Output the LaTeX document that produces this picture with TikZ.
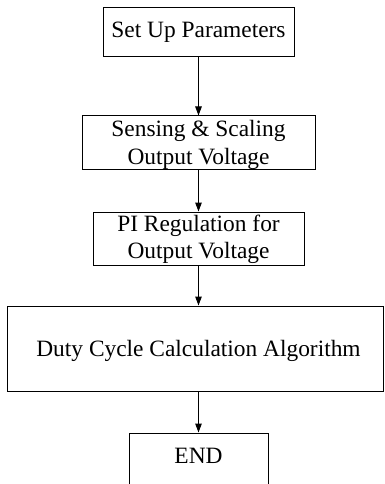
\documentclass[tikz,border=0pt]{standalone}
\usepackage{fontspec}
\setmainfont{Liberation Serif}
\usetikzlibrary{arrows.meta}
\begin{document}
\begin{tikzpicture}[x=1pt,y=-1pt,
  box/.style={draw=black,line width=1pt,inner sep=0pt,rectangle},
  txt/.style={inner sep=0pt,anchor=base,font=\fontsize{23.4}{28}\selectfont},
  arr/.style={line width=1pt,-{Triangle[length=9pt,width=6.5pt]}}]
\clip (0,0) rectangle (384,484);
\fill[white] (0,0) rectangle (384,484);
\node[box,minimum width=191pt,minimum height=49pt] (b1) at (198.5,32.5) {};
\node[box,minimum width=233pt,minimum height=53pt] (b2) at (198.5,142.5) {};
\node[box,minimum width=211pt,minimum height=53pt] (b3) at (198.5,238.5) {};
\node[box,minimum width=376pt,minimum height=85pt] (b4) at (195,348.5) {};
\node[box,minimum width=139pt,minimum height=67pt] (b5) at (198.5,466.5) {};
\node[txt] (t1) at (198.5,38) {Set Up Parameters};
\node[txt] (t2a) at (198.5,136) {Sensing \& Scaling};
\node[txt] (t2b) at (198.5,164) {Output Voltage};
\node[txt] (t3a) at (198.5,231) {PI Regulation for};
\node[txt] (t3b) at (198.5,258) {Output Voltage};
\node[txt] (t4) at (198.5,356) {Duty Cycle Calculation Algorithm};
\node[txt] (t5) at (198.5,463) {END};
\draw[arr] (b1.south) -- (b2.north);
\draw[arr] (b2.south) -- (b3.north);
\draw[arr] (b3.south) -- (b3.south |- b4.north);
\draw[arr] (b4.south -| b5.north) -- (b5.north);
\end{tikzpicture}
\end{document}
